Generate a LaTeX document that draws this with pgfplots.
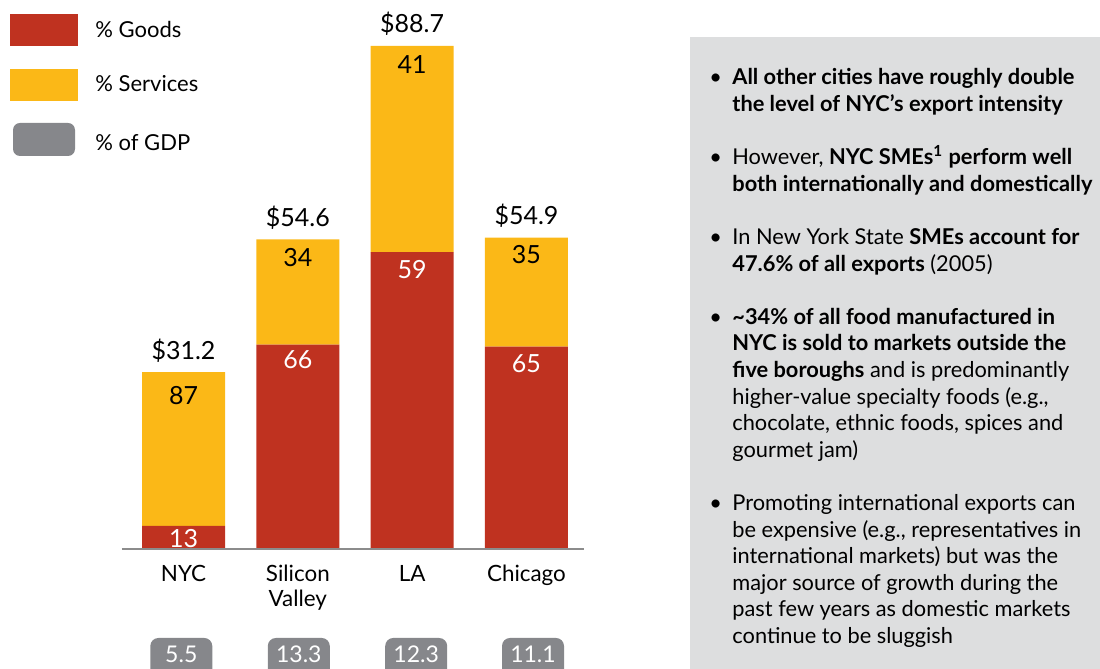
\documentclass[border=0pt]{standalone}
\usepackage{fontspec}
\setmainfont{Lato}
\usepackage{pgfplots}
\pgfplotsset{compat=1.18}

\definecolor{goods}{HTML}{BF3220}
\definecolor{services}{HTML}{FBB817}
\definecolor{gdpgray}{HTML}{86878B}
\definecolor{panel}{HTML}{DDDEDF}
\definecolor{axisgray}{HTML}{8C8C8C}

\tikzset{lbl/.style={anchor=base, inner sep=0pt, font=\fontsize{12.5}{13}\selectfont}}

\begin{document}
\begin{tikzpicture}
\clip (0,0) rectangle (550pt,334.5pt);

% pixel-like frame: (x,y) with y downward, 1 unit = 0.5pt
\begin{scope}[x=0.5pt,y=-0.5pt,yshift=334.5pt]
  \fill[panel] (690,37) rectangle (1100,680);
  % legend
  \fill[goods] (10,14) rectangle (78,46);
  \fill[services] (10,69) rectangle (78,101);
  \fill[gdpgray,rounded corners=3.5pt] (13,123) rectangle (75,156);
  \node[anchor=base west,inner sep=0,font=\fontsize{11}{12}\selectfont] at (95,38) {\% Goods};
  \node[anchor=base west,inner sep=0,font=\fontsize{11}{12}\selectfont] at (95,92) {\% Services};
  \node[anchor=base west,inner sep=0,font=\fontsize{11}{12}\selectfont] at (95,151) {\% of GDP};
  % % of GDP boxes
  \foreach \cx/\v in {181.3/5.5, 298.8/13.3, 416.2/12.3, 533/11.1} {
    \fill[gdpgray,rounded corners=4pt] (\cx-31,638) rectangle (\cx+31,690);
    \node[anchor=base,inner sep=0,text=white,font=\fontsize{11.5}{12}\selectfont] at (\cx,662.5) {\v};
  }
  % commentary
  \node[anchor=base west,inner sep=0] at (709,84.5) {\fontsize{10.9}{13.3}\selectfont
    \begin{tabular}[t]{@{}l@{}l@{}}
    \makebox[11.5pt][l]{\textbullet} & \textbf{All other cities have roughly double}\\
     & \textbf{the level of NYC’s export intensity}\\[13.3pt]
    \makebox[11.5pt][l]{\textbullet} & However, \textbf{NYC SMEs\textsuperscript{1} perform well}\\
     & \textbf{both internationally and domestically}\\[13.3pt]
    \makebox[11.5pt][l]{\textbullet} & In New York State \textbf{SMEs account for}\\
     & \textbf{47.6\% of all exports} (2005)\\[13.3pt]
    \makebox[11.5pt][l]{\textbullet} & \textbf{\textasciitilde34\% of all food manufactured in}\\
     & \textbf{NYC is sold to markets outside the}\\
     & \textbf{five boroughs} and is predominantly\\
     & higher-value specialty foods (e.g.,\\
     & chocolate, ethnic foods, spices and\\
     & gourmet jam)\\[13.3pt]
    \makebox[11.5pt][l]{\textbullet} & Promoting international exports can\\
     & be expensive (e.g., representatives in\\
     & international markets) but was the\\
     & major source of growth during the\\
     & past few years as domestic markets\\
     & continue to be sluggish
    \end{tabular}};
\end{scope}

\begin{axis}[
    at={(62.5pt,60pt)}, anchor=south west,
    scale only axis, width=230pt, height=251.5pt,
    xmin=-0.512, xmax=3.512, ymin=0, ymax=88.7,
    ybar stacked, bar width=41.5pt,
    axis line style={draw=none},
    xtick={0,1,2,3}, major tick length=0pt,
    xticklabels={NYC, Silicon\\Valley, LA, Chicago},
    xticklabel style={align=center, anchor=north, inner sep=0pt, yshift=-8pt,
      font=\fontsize{11.2}{12.5}\selectfont},
    ytick=\empty,
    clip=false,
]
% goods and services, $bn (total x share)
\addplot[fill=goods, draw=none] coordinates {(0,4.06) (1,36.04) (2,52.33) (3,35.69)};
\addplot[fill=services, draw=none] coordinates {(0,27.14) (1,18.56) (2,36.37) (3,19.22)};

\coordinate (base0) at (axis cs:-0.54,0);
\coordinate (base1) at (axis cs:3.505,0);
% totals (top of each bar)
\coordinate (t0) at (axis cs:0,31.2);
\coordinate (t1) at (axis cs:1,54.6);
\coordinate (t2) at (axis cs:2,88.7);
\coordinate (t3) at (axis cs:3,54.9);
% top of goods segment
\coordinate (g0) at (axis cs:0,4.06);
\coordinate (g1) at (axis cs:1,36.04);
\coordinate (g2) at (axis cs:2,52.33);
\coordinate (g3) at (axis cs:3,35.69);
\end{axis}

\draw[axisgray, line width=1pt] (base0) -- (base1);

\node[lbl, yshift=6.5pt] at (t0) {\$31.2};
\node[lbl, yshift=6.5pt] at (t1) {\$54.6};
\node[lbl, yshift=6.5pt] at (t2) {\$88.7};
\node[lbl, yshift=6.5pt] at (t3) {\$54.9};
% services shares
\node[lbl, yshift=-16pt] at (t0) {87};
\node[lbl, yshift=-13.8pt] at (t1) {34};
\node[lbl, yshift=-13.8pt] at (t2) {41};
\node[lbl, yshift=-12.8pt] at (t3) {35};
% goods shares
\node[lbl, text=white, yshift=-11pt] at (g0) {13};
\node[lbl, text=white, yshift=-12pt] at (g1) {66};
\node[lbl, text=white, yshift=-13.2pt] at (g2) {59};
\node[lbl, text=white, yshift=-12.8pt] at (g3) {65};
\end{tikzpicture}
\end{document}
